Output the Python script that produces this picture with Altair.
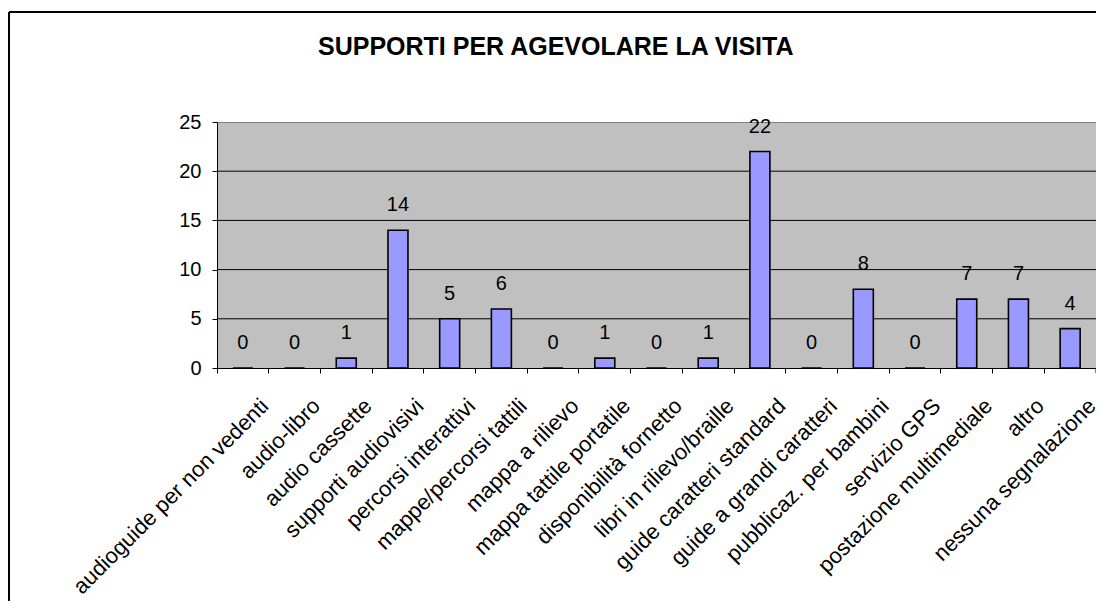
import altair as alt
import pandas as pd

categories = ["audioguide per non vedenti", "audio-libro", "audio cassette", "supporti audiovisivi",
              "percorsi interattivi", "mappe/percorsi tattili", "mappa a rilievo", "mappa tattile portatile",
              "disponibilità fornetto", "libri in rilievo/braille", "guide caratteri standard",
              "guide a grandi caratteri", "pubblicaz. per bambini", "servizio GPS",
              "postazione multimediale", "altro", "nessuna segnalazione"]
values = [0, 0, 1, 14, 5, 6, 0, 1, 0, 1, 22, 0, 8, 0, 7, 7, 4]
y_ticks = [0, 5, 10, 15, 20, 25]
grid_values = [5, 10, 15, 20]
title_text = "SUPPORTI PER AGEVOLARE LA VISITA"

W, H = 879, 246
PAD_L, PAD_T, PAD_B = 209, 114, 233
FONT = "Liberation Sans"

df = pd.DataFrame({"categoria": categories, "valore": values})
grid_df = pd.DataFrame({"valore": grid_values})
one = pd.DataFrame({"t": [title_text]})

x_enc = alt.X("categoria:N", sort=categories, title=None,
              scale=alt.Scale(paddingInner=0, paddingOuter=0),
              axis=alt.Axis(bandPosition=0, labelAngle=-45, labelAlign="right", labelBaseline="middle",
                            labelOffset=22, labelPadding=29, labelFontSize=22, labelFont=FONT,
                            labelColor="black", labelLimit=1000, labelOverlap=False,
                            domainColor="black", domainWidth=1, tickColor="black", tickSize=5,
                            tickWidth=1, grid=False))
y_enc = alt.Y("valore:Q", title=None,
              scale=alt.Scale(domain=[0, 25], nice=False, zero=True),
              axis=alt.Axis(values=y_ticks, labelFontSize=20, labelFont=FONT, labelColor="black",
                            labelPadding=11, tickSize=5, tickColor="black", tickWidth=1,
                            domainColor="black", domainWidth=1, grid=False))

grid = alt.Chart(grid_df).mark_rule(color="black", strokeWidth=1).encode(y=y_enc)

bars = alt.Chart(df).mark_bar(size=20, color="#9999FF", stroke="black", strokeWidth=1.6).encode(
    x=x_enc, y=y_enc)

labels = alt.Chart(df).mark_text(dy=-19, baseline="alphabetic", fontSize=20, font=FONT,
                                 color="black").encode(x=x_enc, y=y_enc, text="valore:Q")

title_mark = alt.Chart(one).mark_text(align="left", baseline="alphabetic", fontSize=25,
                                      fontWeight="bold", font=FONT, color="black").encode(
    text="t:N", x=alt.value(101), y=alt.value(-67))

border_left = alt.Chart(one).mark_rule(color="black", strokeWidth=2).encode(
    x=alt.value(-208), y=alt.value(-110), y2=alt.value(H + PAD_B))
border_top = alt.Chart(one).mark_rule(color="black", strokeWidth=2).encode(
    x=alt.value(-208), x2=alt.value(W), y=alt.value(-110))
end_tick = alt.Chart(one).mark_rule(color="black", strokeWidth=1).encode(
    x=alt.value(W), y=alt.value(H), y2=alt.value(H + 5))

chart = alt.layer(grid, bars, labels, title_mark, border_left, border_top, end_tick).properties(
    width=W, height=H,
    autosize=alt.AutoSizeParams(type="none"),
    padding={"left": PAD_L, "top": PAD_T, "right": 0, "bottom": PAD_B},
    background="white",
).configure_view(fill="#C0C0C0", stroke="#808080", strokeWidth=1)

chart.save("out.html", embed_options={"renderer": "svg", "actions": False})
